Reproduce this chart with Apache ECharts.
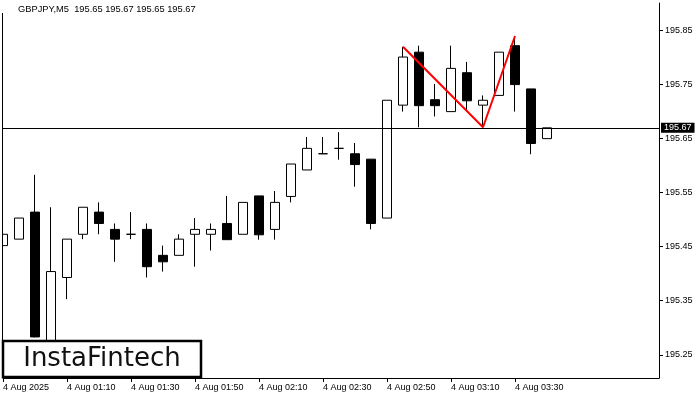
<!DOCTYPE html>
<html>
<head>
<meta charset="utf-8">
<script src="https://cdn.jsdelivr.net/npm/echarts@6/dist/echarts.min.js"></script>
<style>
html,body{margin:0;padding:0;background:#fff;}
#chart{width:700px;height:400px;}
</style>
</head>
<body>
<div id="chart"></div>
<script>
// Time slots (5-minute bars); the last 7 are empty space to the right
const categories = [
  '00:50','00:55','01:00','01:05','01:10','01:15','01:20','01:25','01:30','01:35',
  '01:40','01:45','01:50','01:55','02:00','02:05','02:10','02:15','02:20','02:25',
  '02:30','02:35','02:40','02:45','02:50','02:55','03:00','03:05','03:10','03:15',
  '03:20','03:25','03:30','03:35','03:40','03:45','03:50','03:55','04:00','04:05',
  '04:10','04:15'
];
const opens  = [195.452,195.464,195.514,195.250,195.393,195.473,195.514,195.482,195.473,195.482,
                195.434,195.434,195.473,195.473,195.493,195.473,195.544,195.482,195.543,195.592,
                195.622,195.632,195.622,195.612,195.503,195.712,195.810,195.722,195.700,195.772,
                195.712,195.730,195.822,195.742,195.650];
const closes = [195.473,195.503,195.283,195.404,195.464,195.523,195.493,195.464,195.473,195.413,
                195.422,195.464,195.482,195.482,195.463,195.532,195.472,195.532,195.603,195.632,
                195.622,195.632,195.602,195.493,195.721,195.801,195.711,195.711,195.780,195.720,
                195.721,195.810,195.750,195.641,195.670];
const lows   = [195.452,195.464,195.282,195.220,195.353,195.464,195.473,195.422,195.464,195.393,
                195.404,195.434,195.413,195.443,195.463,195.473,195.463,195.463,195.532,195.592,
                195.622,195.611,195.561,195.482,195.503,195.700,195.671,195.691,195.700,195.700,
                195.671,195.730,195.700,195.621,195.650];
const highs  = [195.493,195.503,195.583,195.523,195.464,195.523,195.532,195.493,195.514,195.493,
                195.452,195.473,195.503,195.493,195.544,195.532,195.544,195.553,195.603,195.653,
                195.653,195.662,195.642,195.612,195.721,195.820,195.822,195.751,195.822,195.792,
                195.730,195.810,195.840,195.742,195.670];
// Pattern line (double top): [bar index, price]
const patternIdx    = [25, 30, 32];
const patternPrices = [195.820, 195.671, 195.840];
// Axis ticks
const yTicks = [195.25,195.35,195.45,195.55,195.65,195.75,195.85];
const xTickIdx = [0,4,8,12,16,20,24,28,32];
const xTickLabels = ['4 Aug 2025','4 Aug 01:10','4 Aug 01:30','4 Aug 01:50','4 Aug 02:10',
                     '4 Aug 02:30','4 Aug 02:50','4 Aug 03:10','4 Aug 03:30'];
const currentPrice = 195.67;
const headerText = 'GBPJPY,M5  195.65 195.67 195.65 195.67';

const candleData = opens.map((o, i) => [o, closes[i], lows[i], highs[i]]);
const patternData = patternIdx.map((x, i) => [x, patternPrices[i]]);

const FONT = 'Liberation Sans';
const chart = echarts.init(document.getElementById('chart'), null, {renderer: 'canvas'});
chart.setOption({
  animation: false,
  backgroundColor: '#fff',
  grid: {left: 3, right: 41, top: 3, bottom: 22, show: false},
  xAxis: {
    type: 'category',
    data: categories,
    boundaryGap: false,
    axisLine: {show: true, lineStyle: {color: '#000', width: 1}},
    axisTick: {show: true, length: 4, lineStyle: {color: '#000'},
               interval: (idx) => xTickIdx.includes(idx)},
    axisLabel: {
      show: true, interval: (idx) => xTickIdx.includes(idx),
      formatter: (v, idx) => { const k = xTickIdx.indexOf(idx); return k >= 0 ? xTickLabels[k] : ''; },
      align: 'left', margin: 5, color: '#000', fontSize: 9, fontFamily: FONT
    },
    splitLine: {show: false}
  },
  yAxis: {
    type: 'value',
    position: 'right',
    min: 195.207, max: 195.901,
    scale: true,
    axisLine: {show: true, lineStyle: {color: '#000', width: 1}},
    axisTick: {show: true, length: 4, inside: false, lineStyle: {color: '#000'}, customValues: yTicks},
    axisLabel: {show: true, customValues: yTicks, formatter: (v) => v.toFixed(2),
                margin: 6, color: '#000', fontSize: 9, fontFamily: FONT},
    splitLine: {show: false}
  },
  series: [
    {
      type: 'candlestick',
      data: candleData,
      barWidth: 9,
      clip: true,
      itemStyle: {color: '#fff', color0: '#000', borderColor: '#000', borderColor0: '#000', borderWidth: 1},
      markLine: {
        silent: true,
        symbol: ['none', 'none'],
        data: [{yAxis: currentPrice}],
        lineStyle: {color: '#000', width: 1, type: 'solid'},
        label: {
          show: true, position: 'end', distance: 2,
          formatter: () => currentPrice.toFixed(2),
          backgroundColor: '#000', color: '#fff', fontSize: 9, fontFamily: FONT,
          padding: [1, 3, 0, 3]
        }
      }
    },
    {
      type: 'line',
      data: patternData,
      symbol: 'none',
      lineStyle: {color: '#ff0000', width: 2},
      z: 5
    }
  ],
  graphic: [
    {type: 'rect', shape: {x: 0, y: 0, width: 2, height: 380}, style: {fill: '#fff'}, z: 9},
    {type: 'line', shape: {x1: 2.5, y1: 13, x2: 2.5, y2: 378}, style: {stroke: '#000', lineWidth: 1}, z: 10},
    {type: 'text', left: 18, top: 5, style: {text: headerText, fill: '#000', fontSize: 9.3, fontFamily: FONT}, z: 10},
    {type: 'rect', shape: {x: 3, y: 341, width: 198, height: 36},
     style: {fill: '#fff', stroke: '#000', lineWidth: 2.5}, z: 20},
    {type: 'text', x: 102, y: 359.5,
     style: {text: 'InstaFintech', fill: '#111', fontSize: 26, fontFamily: 'DejaVu Sans',
             align: 'center', verticalAlign: 'middle'}, z: 21}
  ]
});
</script>
</body>
</html>
